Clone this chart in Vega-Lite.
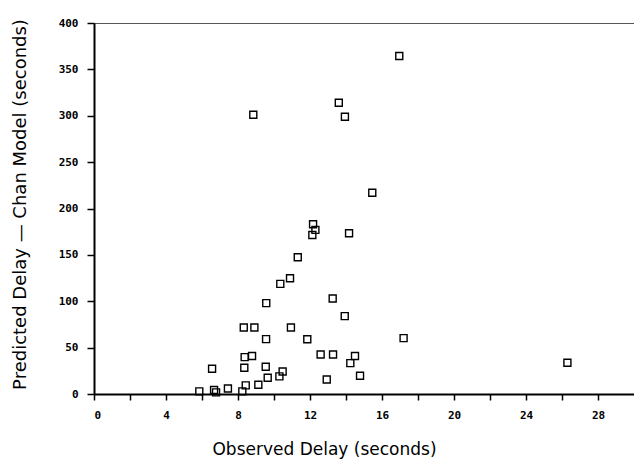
{
  "$schema": "https://vega.github.io/schema/vega-lite/v6.json",
  "width": 540,
  "height": 371,
  "autosize": {"type": "none"},
  "padding": {"left": 94, "top": 23, "right": 0, "bottom": 67},
  "background": "white",
  "config": {
    "view": {"stroke": "#555", "strokeWidth": 1},
    "axis": {"grid": false}
  },
  "data": {
    "values": [
      {"obs": 8.85, "pred": 301},
      {"obs": 16.96, "pred": 364.5},
      {"obs": 13.6, "pred": 314},
      {"obs": 13.94, "pred": 299},
      {"obs": 15.46, "pred": 217},
      {"obs": 12.17, "pred": 183},
      {"obs": 12.3, "pred": 177},
      {"obs": 12.13, "pred": 171.5},
      {"obs": 14.17, "pred": 173.3},
      {"obs": 11.32, "pred": 147.5},
      {"obs": 10.89, "pred": 124.8},
      {"obs": 10.35, "pred": 118.7},
      {"obs": 9.57, "pred": 98},
      {"obs": 8.32, "pred": 71.7},
      {"obs": 8.91, "pred": 71.7},
      {"obs": 10.94, "pred": 71.7},
      {"obs": 9.56, "pred": 59.2},
      {"obs": 11.85, "pred": 59},
      {"obs": 12.59, "pred": 42.6},
      {"obs": 8.37, "pred": 39.8},
      {"obs": 8.78, "pred": 40.9},
      {"obs": 6.56, "pred": 27.2},
      {"obs": 8.35, "pred": 28.3},
      {"obs": 9.54, "pred": 29.4},
      {"obs": 10.48, "pred": 24.3},
      {"obs": 10.3, "pred": 19},
      {"obs": 9.65, "pred": 17.5},
      {"obs": 9.13, "pred": 10},
      {"obs": 8.43, "pred": 9.3},
      {"obs": 7.44, "pred": 6},
      {"obs": 8.24, "pred": 2.8},
      {"obs": 5.85, "pred": 2.8},
      {"obs": 6.67, "pred": 4.3},
      {"obs": 6.78, "pred": 1.7},
      {"obs": 13.26, "pred": 103},
      {"obs": 13.93, "pred": 84},
      {"obs": 17.2, "pred": 60.2},
      {"obs": 13.28, "pred": 42.6},
      {"obs": 14.5, "pred": 40.9},
      {"obs": 14.24, "pred": 33.3},
      {"obs": 14.78, "pred": 19.7},
      {"obs": 12.93, "pred": 15.7},
      {"obs": 26.3, "pred": 33.7}
    ]
  },
  "mark": {"type": "point", "shape": "square", "filled": false, "size": 49, "stroke": "black", "strokeWidth": 1.4, "opacity": 1},
  "encoding": {
    "x": {
      "field": "obs",
      "type": "quantitative",
      "scale": {"domain": [0, 30], "nice": false, "zero": true},
      "axis": {
        "title": "Observed Delay (seconds)",
        "values": [0, 2, 4, 6, 8, 10, 12, 14, 16, 18, 20, 22, 24, 26, 28],
        "labelExpr": "datum.value % 4 === 0 ? datum.label : ''",
        "domainColor": "black",
        "domainWidth": 2,
        "tickColor": "black",
        "tickWidth": 1.5,
        "tickSize": 6,
        "labelFont": "DejaVu Sans Mono",
        "labelFontWeight": "bold",
        "labelFontSize": 11,
        "labelColor": "black",
        "labelPadding": 9,
        "titleFont": "DejaVu Sans",
        "titleFontWeight": "normal",
        "titleFontSize": 17,
        "titleColor": "black",
        "titleX": 230,
        "titleY": 60,
        "titleAnchor": null,
        "titleBaseline": "alphabetic"
      }
    },
    "y": {
      "field": "pred",
      "type": "quantitative",
      "scale": {"domain": [0, 400], "nice": false},
      "axis": {
        "title": "Predicted Delay — Chan Model (seconds)",
        "values": [0, 50, 100, 150, 200, 250, 300, 350, 400],
        "domainColor": "black",
        "domainWidth": 2,
        "tickColor": "black",
        "tickWidth": 1.5,
        "tickSize": 7,
        "labelFont": "DejaVu Sans Mono",
        "labelFontWeight": "bold",
        "labelFontSize": 11,
        "labelColor": "black",
        "labelPadding": 9,
        "titleFont": "DejaVu Sans",
        "titleFontWeight": "normal",
        "titleFontSize": 18,
        "titleColor": "black",
        "titleX": -74,
        "titleY": 181,
        "titleAngle": -90,
        "titleAlign": "center",
        "titleBaseline": "middle"
      }
    }
  }
}
